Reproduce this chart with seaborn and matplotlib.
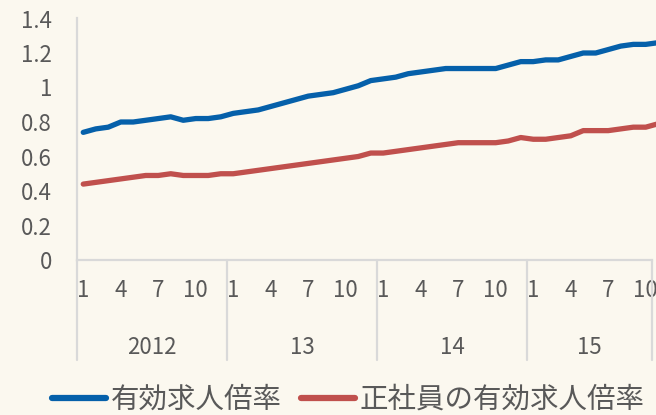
import numpy as np
import pandas as pd
import matplotlib
matplotlib.use("Agg")
import matplotlib.pyplot as plt
import matplotlib.transforms as mtrans
import seaborn as sns

# ---- data ----
years = ["2012", "13", "14", "15"]
months_per_year = [12, 12, 12, 10]
tick_months = [1, 4, 7, 10]
series_names = ["有効求人倍率", "正社員の有効求人倍率"]
ratio_all = [0.74, 0.76, 0.77, 0.80, 0.80, 0.81, 0.82, 0.83, 0.81, 0.82, 0.82, 0.83,
             0.85, 0.86, 0.87, 0.89, 0.91, 0.93, 0.95, 0.96, 0.97, 0.99, 1.01, 1.04,
             1.05, 1.06, 1.08, 1.09, 1.10, 1.11, 1.11, 1.11, 1.11, 1.11, 1.13, 1.15,
             1.15, 1.16, 1.16, 1.18, 1.20, 1.20, 1.22, 1.24, 1.25, 1.25, 1.26]
ratio_regular = [0.44, 0.45, 0.46, 0.47, 0.48, 0.49, 0.49, 0.50, 0.49, 0.49, 0.49, 0.50,
                 0.50, 0.51, 0.52, 0.53, 0.54, 0.55, 0.56, 0.57, 0.58, 0.59, 0.60, 0.62,
                 0.62, 0.63, 0.64, 0.65, 0.66, 0.67, 0.68, 0.68, 0.68, 0.68, 0.69, 0.71,
                 0.70, 0.70, 0.71, 0.72, 0.75, 0.75, 0.75, 0.76, 0.77, 0.77, 0.79]
yticks = [0, 0.2, 0.4, 0.6, 0.8, 1.0, 1.2, 1.4]
ytick_labels = ["0", "0.2", "0.4", "0.6", "0.8", "1", "1.2", "1.4"]

colors = ["#0560AA", "#C0504D"]
bg = "#FBF8EF"
grid_c = "#D9D9D9"
text_c = "#595959"

sns.set_theme(style="white")
plt.rcParams["font.family"] = ["Noto Sans CJK JP", "DejaVu Sans"]

df = pd.DataFrame({
    "idx": list(range(len(ratio_all))) * 2,
    "value": ratio_all + ratio_regular,
    "series": [series_names[0]] * len(ratio_all) + [series_names[1]] * len(ratio_regular),
})

W, H = 656, 415
fig = plt.figure(figsize=(W / 100, H / 100), dpi=100, facecolor=bg)
px_month = 12.5
ax = fig.add_axes([77 / W, 155 / H, 1.0, 241.5 / H])
ax.set_facecolor("none")

sns.lineplot(data=df, x="idx", y="value", hue="series", hue_order=series_names,
             palette=colors, linewidth=3.8, ax=ax, legend=False,
             solid_capstyle="round", solid_joinstyle="round")

ax.set_xlim(-0.5, -0.5 + W / px_month)
ax.set_ylim(0, 1.4)
ax.set_xlabel("")
ax.set_ylabel("")

# y ticks
ax.set_yticks(yticks)
ax.set_yticklabels(ytick_labels, fontsize=16, color=text_c)
ax.tick_params(axis="y", length=0, pad=18)

# x ticks: month labels
xt, xl = [], []
start = 0
bounds = [0]
for y, n in zip(years, months_per_year):
    for m in range(1, n + 1):
        if m in tick_months:
            xt.append(start + m - 1)
            xl.append(str(m))
    start += n
    bounds.append(start)
ax.set_xticks(xt)
ax.set_xticklabels(xl, fontsize=16, color=text_c)
ax.tick_params(axis="x", length=0, pad=14)

for s in ["top", "right"]:
    ax.spines[s].set_visible(False)
for s in ["left", "bottom"]:
    ax.spines[s].set_color(grid_c)
    ax.spines[s].set_linewidth(1.6)
ax.spines["bottom"].set_bounds(-0.5, bounds[-1] - 0.5)

trans = mtrans.blended_transform_factory(ax.transData, ax.transAxes)
sep_depth = 100 / 241.5
for b in bounds:
    ax.plot([b - 0.5, b - 0.5], [0, -sep_depth], transform=trans, color=grid_c,
            lw=1.6, clip_on=False)
for i, y in enumerate(years):
    c = (bounds[i] + bounds[i + 1]) / 2 - 0.5
    ax.text(c, -87 / 241.5, y, transform=trans, ha="center", va="center",
            fontsize=16, color=text_c)

# legend
from matplotlib.lines import Line2D
handles = [Line2D([0], [0], color=c, lw=4.5, solid_capstyle="round") for c in colors]
fig.legend(handles, series_names, loc="center left", bbox_to_anchor=(52 / W, 1 - 400 / H),
           ncol=2, frameon=False, fontsize=20.5, labelcolor=text_c,
           handlelength=1.9, handletextpad=0.15, columnspacing=0.7, borderpad=0,
           borderaxespad=0)

fig.savefig("out.png", dpi=100, facecolor=bg)
